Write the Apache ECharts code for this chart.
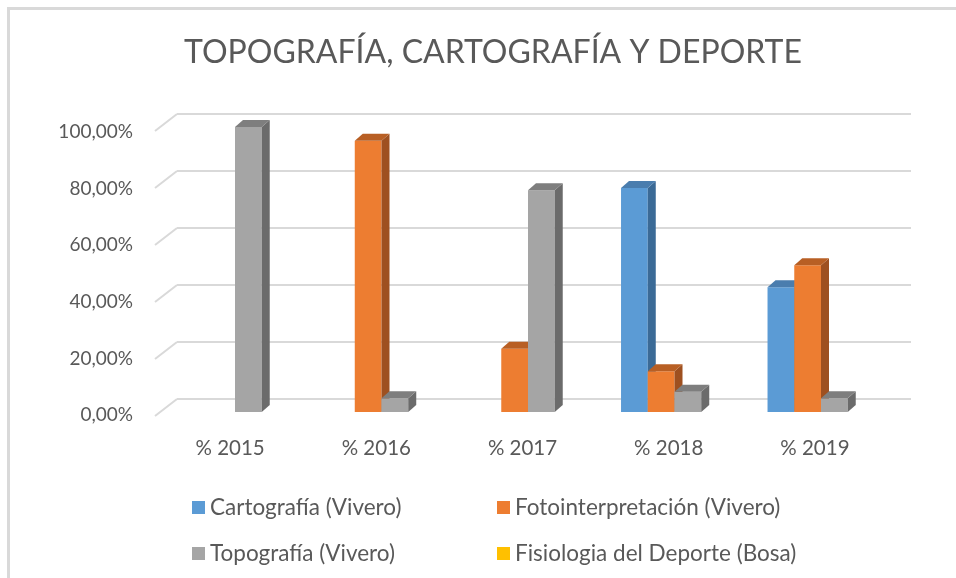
<!DOCTYPE html>
<html>
<head>
<meta charset="utf-8">
<script src="https://cdn.jsdelivr.net/npm/echarts@6/dist/echarts.min.js"></script>
<style>
  * { margin: 0; padding: 0; }
  body { background: #ffffff; }
  #chart { width: 956px; height: 578px; position: relative; }
  #frame {
    position: absolute; left: 7px; top: 7px; right: -10px; bottom: -10px;
    border-top: 3px solid #d9d9d9; border-left: 3px solid #d9d9d9;
    pointer-events: none;
  }
</style>
</head>
<body>
<div style="position:relative;width:956px;height:578px;overflow:hidden">
  <div id="chart"></div>
  <div id="frame"></div>
</div>
<script>
// datos
const categories = ['% 2015', '% 2016', '% 2017', '% 2018', '% 2019'];
const cartografia = [null, null, null, 78.6, 43.8];
const fotointerpretacion = [null, 95.2, 22.2, 14.3, 51.5];
const topografia = [100, 4.8, 77.8, 7.1, 4.8];
const fisiologia = [null, null, null, null, null];
const yTicks = [0, 20, 40, 60, 80, 100];

const seriesNames = ['Cartografía (Vivero)', 'Fotointerpretación (Vivero)', 'Topografía (Vivero)', 'Fisiologia del Deporte (Bosa)'];
const seriesValues = [cartografia, fotointerpretacion, topografia, fisiologia];
// front, side, top
const palette = [
  ['#5B9BD5', '#3B6A96', '#4A7DAE'],
  ['#ED7D31', '#9E5020', '#B85F24'],
  ['#A5A5A5', '#6B6B6B', '#7E7E7E'],
  ['#FFC000', '#A87E00', '#C49400']
];
const txt = '#595959';
const FONT = 'Lato';
const DX = 8, DY = 7;

const chart = echarts.init(document.getElementById('chart'));

// barra con cara frontal, lateral y superior (efecto 3D de Excel)
const makeBar = (idx) => (params, api) => {
  const v = api.value(1);
  if (v == null || isNaN(v)) return;
  const catW = api.size([1, 0])[0];
  const groupW = catW * 0.73;
  const barW = groupW / 4;
  const c = api.coord([api.value(0), v]);
  const base = api.coord([api.value(0), 0]);
  const x0 = c[0] - groupW / 2 + idx * barW;
  const x1 = x0 + barW;
  const yt = c[1], yb = base[1];
  const col = palette[idx];
  return {
    type: 'group',
    children: [
      { type: 'rect', shape: { x: x0, y: yt, width: barW, height: yb - yt }, style: { fill: col[0] } },
      { type: 'polygon', shape: { points: [[x1, yt], [x1 + DX, yt - DY], [x1 + DX, yb - DY], [x1, yb]] }, style: { fill: col[1] } },
      { type: 'polygon', shape: { points: [[x0, yt], [x0 + DX, yt - DY], [x1 + DX, yt - DY], [x1, yt]] }, style: { fill: col[2] } }
    ]
  };
};

const barSeries = seriesNames.map((name, i) => ({
  name: name,
  type: 'custom',
  xAxisIndex: 0,
  yAxisIndex: 0,
  itemStyle: { color: palette[i][0] },
  renderItem: makeBar(i),
  data: seriesValues[i].map((v, k) => [k, v]).filter(d => d[1] != null),
  z: 5
}));

const legendItem = (name, left, top) => ({
  data: [name], left: left, top: top, icon: 'rect',
  itemWidth: 13, itemHeight: 13, selectedMode: false,
  textStyle: { color: txt, fontSize: 22.5, fontFamily: FONT }
});

const option = {
  backgroundColor: '#ffffff',
  animation: false,
  title: {
    text: 'TOPOGRAFÍA, CARTOGRAFÍA Y DEPORTE',
    left: 488, textAlign: 'center', top: 32,
    textStyle: { color: txt, fontSize: 32, fontWeight: 'normal', fontFamily: FONT }
  },
  legend: [
    legendItem(seriesNames[0], 187, 491),
    legendItem(seriesNames[1], 492, 491),
    legendItem(seriesNames[2], 187, 537),
    legendItem(seriesNames[3], 492, 537)
  ],
  grid: [
    { left: 161.75, right: 61.75, top: 127, bottom: 166 },   // plano de barras
    { left: 157, right: 68, top: 132, bottom: 163 },         // plano frontal (etiquetas)
    { left: 177, right: 45, top: 114, bottom: 179 }          // pared del fondo
  ],
  xAxis: [
    { type: 'category', gridIndex: 0, data: categories, show: false },
    { type: 'category', gridIndex: 1, data: categories,
      axisLine: { show: false }, axisTick: { show: false },
      axisLabel: { color: txt, fontSize: 20.5, fontFamily: FONT, margin: 23 } },
    { type: 'value', gridIndex: 2, min: 0, max: 1, show: false }
  ],
  yAxis: [
    { type: 'value', gridIndex: 0, min: 0, max: 100, interval: 20, show: false },
    { type: 'value', gridIndex: 1, min: 0, max: 100, interval: 20,
      axisLine: { show: false }, axisTick: { show: false }, splitLine: { show: false },
      axisLabel: { color: txt, fontSize: 19, fontFamily: FONT, margin: 24,
        formatter: v => v.toFixed(2).replace('.', ',') + '%' } },
    { type: 'value', gridIndex: 2, min: 0, max: 100, interval: 20,
      axisLine: { show: false }, axisTick: { show: false }, axisLabel: { show: false },
      splitLine: { lineStyle: { color: '#d9d9d9', width: 2 } } }
  ],
  series: [
    {
      type: 'custom', xAxisIndex: 2, yAxisIndex: 2, silent: true, z: 1,
      renderItem: (params, api) => {
        const p = api.coord([0, api.value(1)]);
        return { type: 'line', shape: { x1: p[0], y1: p[1], x2: p[0] - 22, y2: p[1] + 17 },
          style: { stroke: '#d9d9d9', lineWidth: 2 } };
      },
      data: yTicks.map(t => [0, t])
    },
    ...barSeries
  ]
};

chart.setOption(option);
</script>
</body>
</html>
